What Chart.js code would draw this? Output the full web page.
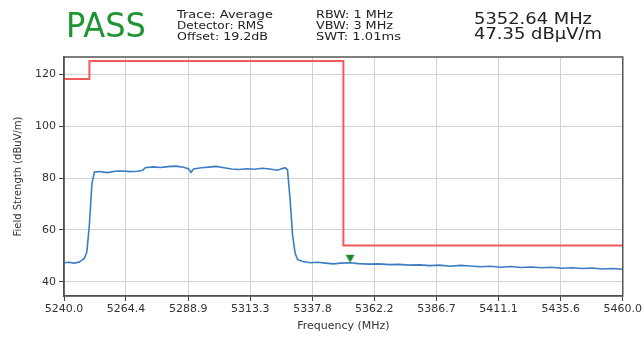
<!DOCTYPE html>
<html>
<head>
<meta charset="utf-8">
<script src="https://cdn.jsdelivr.net/npm/chart.js@4.4.1/dist/chart.umd.min.js"></script>
<style>
  html, body { margin: 0; padding: 0; background: #fff; }
  #wrap { position: relative; width: 644px; height: 337px; }
  .hdr { position: absolute; white-space: nowrap; font-family: "DejaVu Sans", sans-serif;
         transform-origin: 0 0; line-height: 1; color: #222; }
</style>
</head>
<body>
<div id="wrap">
  <canvas id="chart" width="644" height="337"></canvas>
  <div class="hdr" data-w="80" style="left:66px;top:8px;font-size:34px;color:#1f9433">PASS</div>
  <div class="hdr" data-w="96" style="left:177px;top:9px;font-size:11px">Trace: Average</div>
  <div class="hdr" data-w="87" style="left:177px;top:20px;font-size:11px">Detector: RMS</div>
  <div class="hdr" data-w="91" style="left:177px;top:31px;font-size:11px">Offset: 19.2dB</div>
  <div class="hdr" data-w="77" style="left:316px;top:9px;font-size:11px">RBW: 1 MHz</div>
  <div class="hdr" data-w="77" style="left:316px;top:20px;font-size:11px">VBW: 3 MHz</div>
  <div class="hdr" data-w="85" style="left:316px;top:31px;font-size:11px">SWT: 1.01ms</div>
  <div class="hdr" data-w="118" style="left:474px;top:11px;font-size:16.5px">5352.64 MHz</div>
  <div class="hdr" data-w="128" style="left:474px;top:26px;font-size:16.5px">47.35 dBµV/m</div>
</div>
<script>
// axis ranges and ticks
const freqMin = 5240, freqMax = 5460;
const levelMin = 34.5, levelMax = 126.7;
const xTickLabels = ['5240.0', '5264.4', '5288.9', '5313.3', '5337.8', '5362.2', '5386.7', '5411.1', '5435.6', '5460.0'];
const yTickValues = [40, 60, 80, 100, 120];

// limit line (stepped)
const limitFreq = [5240, 5250, 5350, 5460];
const limitLevel = [118.2, 125.2, 54, 54];

// measured trace (average detector)
const traceFreq = [5240, 5242, 5244, 5246, 5248, 5249, 5250, 5251, 5252, 5254, 5257, 5260, 5263, 5266, 5269, 5271,
  5272, 5275, 5278, 5281, 5284, 5287, 5289, 5290, 5291, 5294, 5297, 5300, 5303, 5306, 5309, 5312, 5315, 5318, 5321,
  5324, 5327, 5328, 5329, 5330, 5331, 5332, 5334, 5337, 5340, 5343, 5346, 5349, 5352.64, 5356, 5360, 5364, 5368,
  5372, 5376, 5380, 5384, 5388, 5392, 5396, 5400, 5404, 5408, 5412, 5416, 5420, 5424, 5428, 5432, 5436, 5440, 5444,
  5448, 5452, 5456, 5460];
const traceLevel = [47.3, 47.5, 47.2, 47.6, 49.0, 51.5, 62, 78, 82.3, 82.5, 82.1, 82.6, 82.7, 82.5, 82.6, 83.0,
  84.0, 84.3, 84.1, 84.4, 84.6, 84.2, 83.6, 82.2, 83.5, 84.0, 84.2, 84.5, 84.0, 83.5, 83.3, 83.6, 83.4, 83.8, 83.5,
  83.0, 84.0, 83.2, 72, 58, 51, 48.5, 47.8, 47.3, 47.5, 47.2, 46.9, 47.2, 47.35, 47.0, 46.8, 46.9, 46.6,
  46.7, 46.4, 46.5, 46.2, 46.4, 46.0, 46.3, 46.1, 45.8, 46.0, 45.6, 45.9, 45.5, 45.7, 45.4, 45.6, 45.2, 45.4, 45.1,
  45.3, 44.9, 45.1, 44.8];

// marker
const markerFreq = [5352.64];
const markerLevel = [47.35];

// squeeze header text to its measured width
document.querySelectorAll('.hdr').forEach(el => {
    const w = el.getBoundingClientRect().width;
    el.style.transform = 'scaleX(' + (parseFloat(el.dataset.w) / w) + ')';
});

// down-pointing triangle with its tip at the image centre
const tri = document.createElement('canvas');
tri.width = 11;
tri.height = 24;
const tctx = tri.getContext('2d');
tctx.fillStyle = '#1c8a2c';
tctx.beginPath();
tctx.moveTo(1, 4);
tctx.lineTo(10, 4);
tctx.lineTo(5.5, 12);
tctx.closePath();
tctx.fill();

const frame = {
    id: 'frame',
    afterDatasetsDraw(chart) {
        const { ctx, chartArea: a } = chart;
        ctx.save();
        ctx.strokeStyle = '#555';
        ctx.lineWidth = 1.5;
        ctx.strokeRect(a.left, a.top, a.right - a.left, a.bottom - a.top);
        ctx.restore();
    }
};

const tickFont = { family: 'DejaVu Sans', size: 11 };

new Chart(document.getElementById('chart'), {
    type: 'scatter',
    data: {
        datasets: [
            {
                data: markerFreq.map((f, i) => ({ x: f, y: markerLevel[i] })),
                showLine: false,
                pointStyle: tri,
                pointRadius: 6
            },
            {
                data: traceFreq.map((f, i) => ({ x: f, y: traceLevel[i] })),
                showLine: true,
                borderColor: '#3a7dc2',
                borderWidth: 1.6,
                pointRadius: 0,
                tension: 0
            },
            {
                data: limitFreq.map((f, i) => ({ x: f, y: limitLevel[i] })),
                showLine: true,
                stepped: 'before',
                borderColor: '#f25b5b',
                borderWidth: 2,
                pointRadius: 0
            }
        ]
    },
    options: {
        responsive: false,
        animation: false,
        layout: { padding: { left: 0, top: 57, right: 21, bottom: 0 } },
        plugins: {
            legend: { display: false },
            title: { display: false },
            tooltip: { enabled: false }
        },
        scales: {
            x: {
                type: 'linear',
                min: freqMin,
                max: freqMax,
                afterFit: s => { s.height = 41; },
                afterBuildTicks: s => { s.ticks = xTickLabels.map(l => ({ value: parseFloat(l) })); },
                ticks: {
                    font: tickFont,
                    color: '#333',
                    padding: 2,
                    maxRotation: 0,
                    autoSkip: false,
                    callback: (v, i) => xTickLabels[i]
                },
                grid: { color: '#d2d2d2', lineWidth: 1, tickColor: '#444', tickLength: 5 },
                border: { color: '#444', width: 1.3 },
                title: {
                    display: true,
                    text: 'Frequency (MHz)',
                    font: { family: 'DejaVu Sans', size: 11 },
                    color: '#333',
                    padding: { top: 0, bottom: 4 }
                }
            },
            y: {
                min: levelMin,
                max: levelMax,
                afterFit: s => { s.width = 64; },
                afterBuildTicks: s => { s.ticks = yTickValues.map(v => ({ value: v })); },
                ticks: { font: tickFont, color: '#333', padding: 3 },
                grid: { color: '#d2d2d2', lineWidth: 1, tickColor: '#444', tickLength: 5 },
                border: { color: '#444', width: 1.3 },
                title: {
                    display: true,
                    text: 'Field Strength (dBuV/m)',
                    font: { family: 'DejaVu Sans', size: 10 },
                    color: '#333',
                    padding: { top: 12, bottom: 0 }
                }
            }
        }
    },
    plugins: [frame]
});
</script>
</body>
</html>
